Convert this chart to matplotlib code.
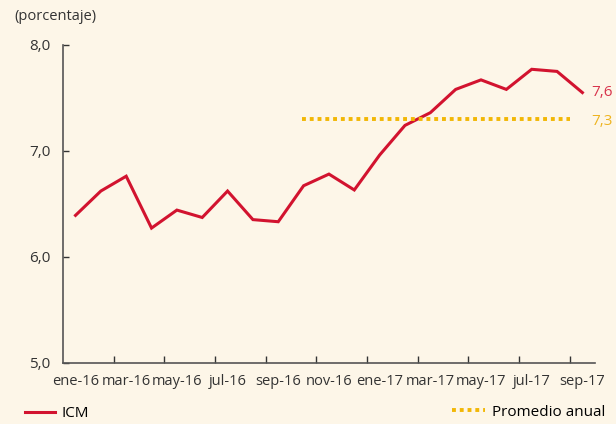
import matplotlib
matplotlib.use('Agg')
import matplotlib.pyplot as plt
import numpy as np

# datos
meses = ['ene-16', 'feb-16', 'mar-16', 'abr-16', 'may-16', 'jun-16', 'jul-16',
         'ago-16', 'sep-16', 'oct-16', 'nov-16', 'dic-16', 'ene-17', 'feb-17',
         'mar-17', 'abr-17', 'may-17', 'jun-17', 'jul-17', 'ago-17', 'sep-17']
icm = [6.39, 6.62, 6.76, 6.27, 6.44, 6.37, 6.62, 6.35, 6.33, 6.67, 6.78,
       6.63, 6.96, 7.24, 7.36, 7.58, 7.67, 7.58, 7.77, 7.75, 7.55]
promedio = 7.3
promedio_desde, promedio_hasta = 'oct-16', 'ago-17'
etiqueta_icm = '7,6'
etiqueta_prom = '7,3'
yticks = [5.0, 6.0, 7.0, 8.0]

bg = '#fdf6e8'
rojo = '#d2132f'
amarillo = '#f2b705'
gris = '#333333'

plt.rcParams['font.family'] = ['Open Sans', 'DejaVu Sans']

fig = plt.figure(figsize=(6.16, 4.24), dpi=100, facecolor=bg)
ax = fig.add_axes([0.102, 0.145, 0.864, 0.749], facecolor=bg)

x = np.arange(len(meses))
l1, = ax.plot(x, icm, color=rojo, lw=2.2, solid_joinstyle='miter', label='ICM')
i0 = meses.index(promedio_desde)
i1 = meses.index(promedio_hasta)
l2 = ax.hlines(promedio, i0 - 0.05, i1 + 0.5, colors=amarillo, lw=2.8,
               linestyles=(0, (1, 1)), label='Promedio anual')

ax.text(x[-1] + 0.35, icm[-1], etiqueta_icm, color='#d8344c', fontsize=11,
        va='center', ha='left', clip_on=False)
ax.text(x[-1] + 0.35, promedio - 0.02, etiqueta_prom, color='#eeb420', fontsize=11,
        va='center', ha='left', clip_on=False)

ax.set_xlim(-0.5, len(meses) - 0.5)
ax.set_ylim(5.0, 8.0)

ax.set_xticks(x[::2])
ax.set_xticklabels(meses[::2])
ax.set_xticks(np.arange(1.5, len(meses) - 1, 2), minor=True)
ax.tick_params(axis='x', which='major', length=0, pad=8, labelsize=10.5, colors=gris)
ax.tick_params(axis='x', which='minor', length=5, width=1, direction='in', color=gris)

ax.set_yticks(yticks)
ax.set_yticklabels([f'{v:.1f}'.replace('.', ',') for v in yticks])
ax.tick_params(axis='y', length=4, width=1, direction='in', pad=24, labelsize=11,
               colors=gris)
for lab in ax.get_yticklabels():
    lab.set_horizontalalignment('left')

for s in ['top', 'right']:
    ax.spines[s].set_visible(False)
for s in ['left', 'bottom']:
    ax.spines[s].set_color('#555555')
    ax.spines[s].set_linewidth(1.2)

fig.text(0.023, 0.962, '(porcentaje)', fontsize=10.5, color=gris, va='center')

fig.legend(handles=[l1], loc='center left', bbox_to_anchor=(0.03, 0.024), frameon=False,
           fontsize=11, handlelength=2.0, handletextpad=0.4, borderaxespad=0)
fig.legend(handles=[l2], loc='center right', bbox_to_anchor=(0.992, 0.028), frameon=False,
           fontsize=11, handlelength=2.2, handletextpad=0.4, borderaxespad=0)

fig.savefig('out.png', dpi=100, facecolor=bg)
